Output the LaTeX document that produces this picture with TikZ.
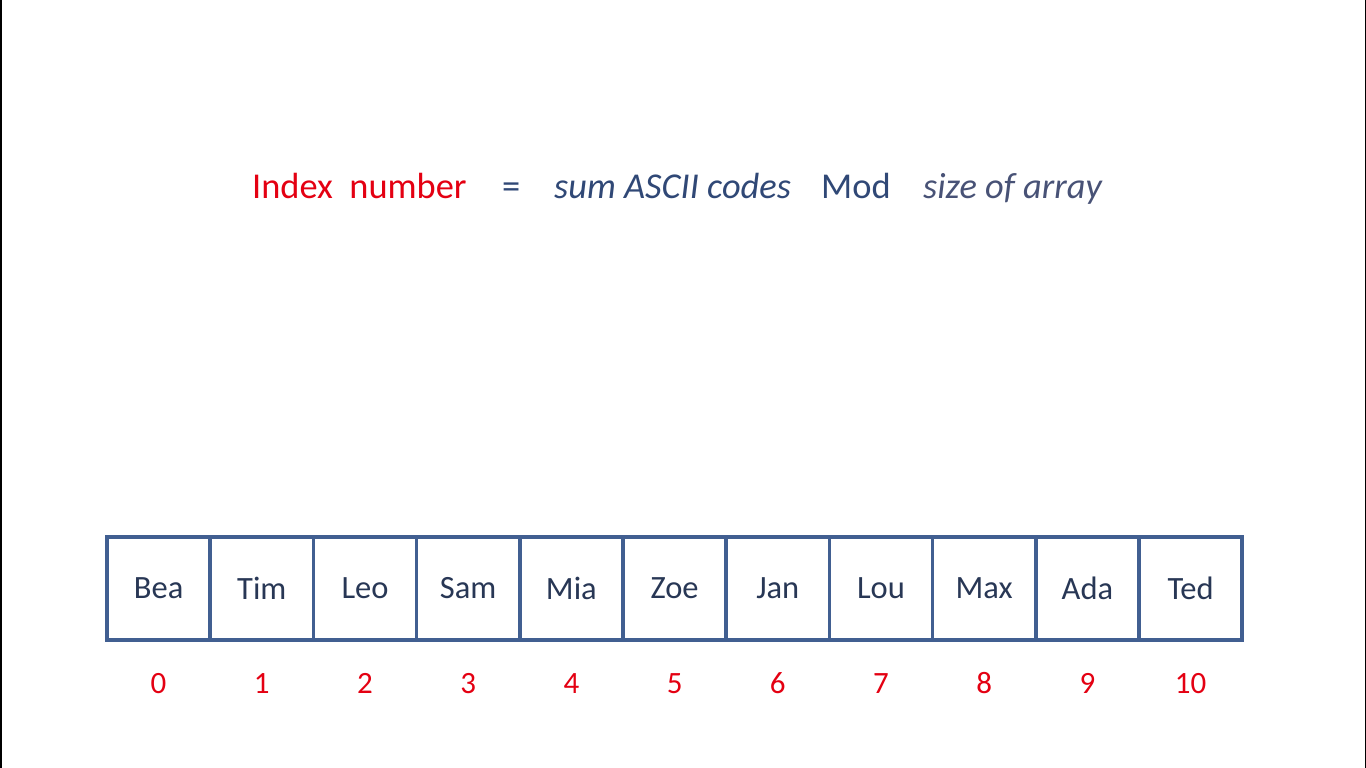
\documentclass[tikz,border=0pt]{standalone}
\usepackage{fontspec}
\setmainfont{Carlito}
\usepackage{xcolor}
\usetikzlibrary{positioning}

\definecolor{idxred}{RGB}{228,0,18}
\definecolor{cellblue}{RGB}{65,95,145}
\definecolor{namedark}{RGB}{40,55,85}
\definecolor{formblue}{RGB}{48,72,118}
\definecolor{formgrey}{RGB}{72,82,118}

\begin{document}
\begin{tikzpicture}[x=1pt,y=1pt,node distance=0pt,
                cell/.style={rectangle,draw=cellblue,line width=3.5pt,outer sep=0pt,inner sep=0pt,
                  minimum width=103.2pt,minimum height=103pt,text=namedark,font=\fontsize{32.5}{36}\selectfont},
                num/.style={inner sep=0pt,text=idxred,font=\fontsize{31}{36}\selectfont},
                term/.style={inner sep=0pt,anchor=base west,font=\fontsize{36.4}{40}\selectfont}]

  \useasboundingbox (0,0) rectangle (1366,768);
  \fill[white] (0,0) rectangle (1366,768);
  % frame of the screen
  \draw[black,line width=1.5pt] (0.75,0) -- (0.75,768);
  \draw[black,line width=1.5pt] (1365.25,0) -- (1365.25,768);

  % formula
  \node[term,text=idxred] (index) at (252,569) {Index\ \ number};
  \node[term,text=formblue] (eq) at (502,569) {=};
  \node[term,text=formblue] (sum) at (554,569) {\itshape sum ASCII codes};
  \node[term,text=formblue] (mod) at (821,569) {Mod};
  \node[term,text=formgrey] (size) at (923,569) {\itshape size of array};

  % array cells
  \node[cell] (c0) at (158.6,179.5) {Bea};
  \node[cell] (c1) [right=of c0] {Tim};
  \node[cell] (c2) [right=of c1] {Leo};
  \node[cell] (c3) [right=of c2] {Sam};
  \node[cell] (c4) [right=of c3] {Mia};
  \node[cell] (c5) [right=of c4] {Zoe};
  \node[cell] (c6) [right=of c5] {Jan};
  \node[cell] (c7) [right=of c6] {Lou};
  \node[cell] (c8) [right=of c7] {Max};
  \node[cell] (c9) [right=of c8] {Ada};
  \node[cell] (c10) [right=of c9] {Ted};

  % index numbers
  \node[num] (i0) at ([yshift=-95pt]c0.center) {0};
  \node[num] (i1) at ([yshift=-95pt]c1.center) {1};
  \node[num] (i2) at ([yshift=-95pt]c2.center) {2};
  \node[num] (i3) at ([yshift=-95pt]c3.center) {3};
  \node[num] (i4) at ([yshift=-95pt]c4.center) {4};
  \node[num] (i5) at ([yshift=-95pt]c5.center) {5};
  \node[num] (i6) at ([yshift=-95pt]c6.center) {6};
  \node[num] (i7) at ([yshift=-95pt]c7.center) {7};
  \node[num] (i8) at ([yshift=-95pt]c8.center) {8};
  \node[num] (i9) at ([yshift=-95pt]c9.center) {9};
  \node[num] (i10) at ([yshift=-95pt]c10.center) {10};
\end{tikzpicture}
\end{document}
